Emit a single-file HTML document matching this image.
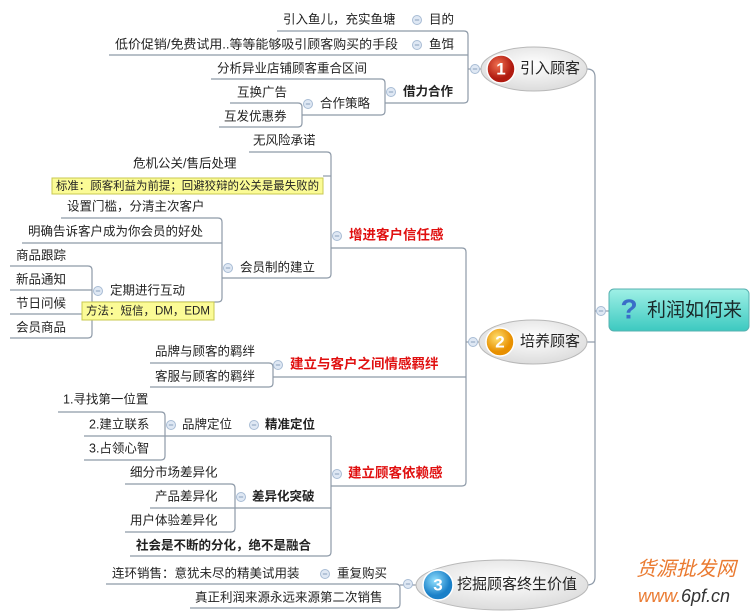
<!DOCTYPE html>
<html><head><meta charset="utf-8"><style>
html,body{margin:0;padding:0;background:#fff;}
svg{display:block}
text{font-family:"Liberation Sans","Noto Sans CJK SC",sans-serif;font-size:12.5px;fill:#222;dominant-baseline:middle}
.b{font-weight:bold}
.r{font-weight:bold;fill:#e01010;font-size:13.5px}
.l{fill:none;stroke:#8e9aa8;stroke-width:1.2}
</style></head><body>
<svg width="751" height="616" viewBox="0 0 751 616" xmlns="http://www.w3.org/2000/svg">
<defs>
<radialGradient id="e" cx="50%" cy="40%" r="60%"><stop offset="0" stop-color="#ffffff"/><stop offset="1" stop-color="#dcdcdc"/></radialGradient>
<linearGradient id="t" x1="0" y1="0" x2="0" y2="1"><stop offset="0" stop-color="#9ff0e6"/><stop offset="1" stop-color="#3cc9c0"/></linearGradient>
<radialGradient id="red" cx="40%" cy="35%"><stop offset="0" stop-color="#f07050"/><stop offset="1" stop-color="#b01a10"/></radialGradient>
<radialGradient id="org" cx="40%" cy="35%"><stop offset="0" stop-color="#ffe070"/><stop offset="1" stop-color="#e89000"/></radialGradient>
<radialGradient id="blu" cx="40%" cy="35%"><stop offset="0" stop-color="#90e0ff"/><stop offset="1" stop-color="#1a80c8"/></radialGradient>
<g id="m"><circle r="4.5" fill="#dfe8f4" stroke="#a8bcd4" stroke-width="1"/><line x1="-2.2" x2="2.2" stroke="#8aa0bc" stroke-width="1"/></g>
</defs>

<!-- lines -->
<g class="l">
<path d="M277 31H464q4 0 4 4V99q0 4 -4 4H385"/>
<path d="M109 55H468"/>
<path d="M468 69H481"/>
<path d="M211 79H381q4 0 4 4V111q0 4 -4 4H302"/>
<path d="M230 103H298q4 0 4 4V123q0 4 -4 4H219"/>
<path d="M587 69q8 0 8 8V577q0 8 -8 8"/>
<path d="M587 342H595"/>
<path d="M595 311H609"/>
<path d="M249 152H327q4 0 4 4V274q0 4 -4 4H222"/>
<path d="M323 176H331"/>
<path d="M331 248H462q4 0 4 4V482q0 4 -4 4H331"/>
<path d="M466 342H479"/>
<path d="M61 218H218q4 0 4 4V298q0 4 -4 4H92"/>
<path d="M22 243H222"/>
<path d="M10 266H88q4 0 4 4V334q0 4 -4 4H10"/>
<path d="M10 290H92"/>
<path d="M10 314H82"/>
<path d="M150 363H269q4 0 4 4V383q0 4 -4 4H150"/>
<path d="M273 377H466"/>
<path d="M58 412H161q4 0 4 4V456q0 4 -4 4H84"/>
<path d="M84 436H331"/>
<path d="M331 436V552q0 4 -4 4H130"/>
<path d="M125 484H231q4 0 4 4V528q0 4 -4 4H125"/>
<path d="M150 508H331"/>
<path d="M106 584H396q4 0 4 4V604q0 4 -4 4H190"/>
<path d="M400 585H416"/>
</g>

<!-- minus icons -->
<use href="#m" x="417" y="20"/><use href="#m" x="417" y="45"/><use href="#m" x="475" y="69"/>
<use href="#m" x="391" y="92"/><use href="#m" x="308" y="104"/>
<use href="#m" x="337" y="236"/><use href="#m" x="228" y="268"/><use href="#m" x="98" y="291"/>
<use href="#m" x="473" y="342"/><use href="#m" x="278" y="365"/>
<use href="#m" x="171" y="425"/><use href="#m" x="254" y="425"/><use href="#m" x="337" y="474"/><use href="#m" x="241" y="497"/>
<use href="#m" x="325" y="574"/><use href="#m" x="408" y="584"/><use href="#m" x="601" y="311"/>

<!-- texts -->
<text x="283" y="20">引入鱼儿，充实鱼塘</text><text x="429" y="20">目的</text>
<text x="115" y="45" textLength="283" lengthAdjust="spacingAndGlyphs">低价促销/免费试用..等等能够吸引顾客购买的手段</text><text x="429" y="45">鱼饵</text>
<text x="217" y="69">分析异业店铺顾客重合区间</text>
<text x="403" y="92" class="b">借力合作</text>
<text x="237" y="93">互换广告</text><text x="224" y="117">互发优惠券</text><text x="320" y="104">合作策略</text>
<text x="253" y="141">无风险承诺</text>
<text x="133" y="164">危机公关/售后处理</text>
<rect x="52" y="178" width="271" height="16" fill="#fbfb96" stroke="#c8c850"/>
<text x="56" y="186.5" style="font-size:11.5px" textLength="263" lengthAdjust="spacingAndGlyphs">标准：顾客利益为前提；回避狡辩的公关是最失败的</text>
<text x="349" y="236" class="r">增进客户信任感</text>
<text x="67" y="207">设置门槛，分清主次客户</text>
<text x="28" y="232">明确告诉客户成为你会员的好处</text>
<text x="240" y="268">会员制的建立</text>
<text x="16" y="256">商品跟踪</text><text x="16" y="280">新品通知</text><text x="110" y="291">定期进行互动</text>
<text x="16" y="304">节日问候</text><text x="16" y="328">会员商品</text>
<rect x="82" y="302" width="132" height="18" fill="#fbfb96" stroke="#c8c850"/>
<text x="86" y="311.5" style="font-size:11.5px">方法：短信，DM，EDM</text>
<text x="155" y="352">品牌与顾客的羁绊</text><text x="155" y="377">客服与顾客的羁绊</text>
<text x="290" y="365" class="r">建立与客户之间情感羁绊</text>
<text x="63" y="400">1.寻找第一位置</text><text x="89" y="425">2.建立联系</text><text x="89" y="449">3.占领心智</text>
<text x="182" y="425">品牌定位</text><text x="265" y="425" class="b">精准定位</text>
<text x="348" y="474" class="r">建立顾客依赖感</text>
<text x="130" y="473">细分市场差异化</text><text x="155" y="497">产品差异化</text><text x="130" y="521">用户体验差异化</text>
<text x="252" y="497" class="b">差异化突破</text>
<text x="136" y="546" class="b">社会是不断的分化，绝不是融合</text>
<text x="112" y="574">连环销售：意犹未尽的精美试用装</text><text x="337" y="574">重复购买</text>
<text x="195" y="598">真正利润来源永远来源第二次销售</text>

<!-- nodes -->
<ellipse cx="534" cy="69" rx="53" ry="22" fill="url(#e)" stroke="#b8b8b8"/>
<circle cx="501" cy="69" r="14" fill="url(#red)" stroke="#fff" stroke-width="1.5"/>
<text x="501" y="70" text-anchor="middle" style="fill:#fff;font-weight:bold;font-size:17px">1</text>
<text x="520" y="69" style="font-size:15px">引入顾客</text>

<ellipse cx="533" cy="342" rx="54" ry="22" fill="url(#e)" stroke="#b8b8b8"/>
<circle cx="500" cy="342" r="14" fill="url(#org)" stroke="#fff" stroke-width="1.5"/>
<text x="500" y="343" text-anchor="middle" style="fill:#fff;font-weight:bold;font-size:17px">2</text>
<text x="520" y="342" style="font-size:15px">培养顾客</text>

<ellipse cx="502" cy="585" rx="86" ry="25" fill="url(#e)" stroke="#b8b8b8"/>
<circle cx="438" cy="585" r="15" fill="url(#blu)" stroke="#fff" stroke-width="1.5"/>
<text x="438" y="586" text-anchor="middle" style="fill:#fff;font-weight:bold;font-size:17px">3</text>
<text x="457" y="585" style="font-size:15px">挖掘顾客终生价值</text>

<rect x="609" y="289" width="140" height="42" rx="5" fill="url(#t)" stroke="#58b0b0"/>
<text x="629" y="311" text-anchor="middle" style="fill:#3a6ec8;font-weight:bold;font-size:28px">?</text>
<text x="647" y="311" style="font-size:19px;fill:#1a2a2a">利润如何来</text>

<text x="636" y="570" style="fill:#ea7a30;font-size:20px;font-style:italic">货源批发网</text>
<text x="638" y="597" style="fill:#ea7a30;font-size:18px;font-style:italic">www.<tspan style="fill:#333">6pf.cn</tspan></text>
</svg>
</body></html>
